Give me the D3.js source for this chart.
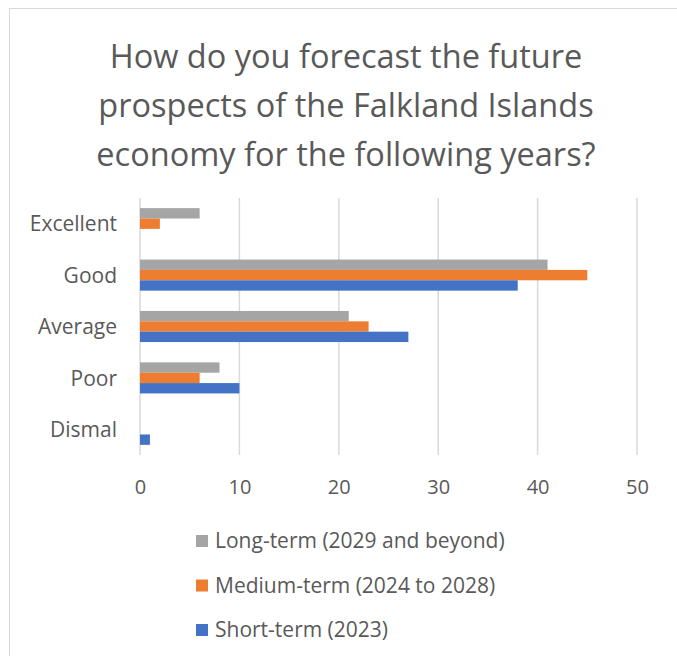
<!DOCTYPE html>
<html>
<head>
<meta charset="utf-8">
<script src="https://cdn.jsdelivr.net/npm/d3@7"></script>
<style>
  html, body { margin: 0; padding: 0; background: #fff; }
  svg { display: block; }
</style>
</head>
<body>
<svg id="chart" width="677" height="656"></svg>
<script>
const categories = ["Excellent", "Good", "Average", "Poor", "Dismal"];
const seriesNames = ["Long-term (2029 and beyond)", "Medium-term (2024 to 2028)", "Short-term (2023)"];
const longTerm = [6, 41, 21, 8, 0];
const mediumTerm = [2, 45, 23, 6, 0];
const shortTerm = [0, 38, 27, 10, 1];
const seriesColors = ["#a5a5a5", "#ed7d31", "#4472c4"];
const xTicks = [0, 10, 20, 30, 40, 50];
const titleLines = ["How do you forecast the future", "prospects of the Falkland Islands", "economy for the following years?"];

const seriesValues = [longTerm, mediumTerm, shortTerm];
const font = "'Open Sans', sans-serif";
const svg = d3.select("#chart");

// outer chart frame
svg.append("rect")
  .attr("x", 9.5).attr("y", 8.5)
  .attr("width", 700).attr("height", 700)
  .attr("fill", "#fff").attr("stroke", "#d9d9d9").attr("stroke-width", 1);

// title
svg.append("g").selectAll("text").data(titleLines).join("text")
  .attr("x", 346).attr("y", (d, i) => 68 + i * 49)
  .attr("text-anchor", "middle")
  .attr("font-family", font).attr("font-size", 32.5)
  .attr("fill", "#595959")
  .text(d => d);

const x = d3.scaleLinear().domain([0, 50]).range([140, 637]);
const y = d3.scaleBand().domain(categories).range([198, 455]);
const inner = d3.scaleBand().domain(d3.range(seriesNames.length))
  .range([0, y.bandwidth()]).paddingOuter(0.98).paddingInner(0);

// vertical gridlines
svg.append("g").selectAll("line").data(xTicks).join("line")
  .attr("x1", d => x(d)).attr("x2", d => x(d))
  .attr("y1", 198).attr("y2", 455)
  .attr("stroke", "#d9d9d9").attr("stroke-width", 1.5);

// bars
const groups = svg.append("g").selectAll("g").data(seriesValues).join("g")
  .attr("fill", (d, i) => seriesColors[i]);
groups.each(function (vals, si) {
  d3.select(this).selectAll("rect").data(vals).join("rect")
    .attr("x", x(0))
    .attr("y", (v, ci) => y(categories[ci]) + inner(si))
    .attr("width", v => x(v) - x(0))
    .attr("height", inner.bandwidth());
});

// x axis labels
const xAxis = d3.axisBottom(x).tickValues(xTicks).tickSize(0).tickPadding(0);
const xg = svg.append("g").attr("transform", "translate(0,480)").call(xAxis);
xg.select(".domain").remove();
xg.selectAll("text")
  .attr("font-family", font).attr("font-size", 20).attr("fill", "#595959");

// category labels
const yAxis = d3.axisLeft(y).tickSize(0).tickPadding(0);
const yg = svg.append("g").attr("transform", "translate(117,1)").call(yAxis);
yg.select(".domain").remove();
yg.selectAll("text")
  .attr("font-family", font).attr("font-size", 21).attr("fill", "#595959");

// legend
const legend = svg.append("g").selectAll("g").data(seriesNames).join("g")
  .attr("transform", (d, i) => `translate(196,${541 + i * 44.5})`);
legend.append("rect")
  .attr("x", 0).attr("y", -6).attr("width", 12).attr("height", 12)
  .attr("fill", (d, i) => seriesColors[i]);
legend.append("text")
  .attr("x", 19).attr("y", 0).attr("dy", "0.35em")
  .attr("font-family", font).attr("font-size", 21).attr("fill", "#595959")
  .text(d => d);
</script>
</body>
</html>
